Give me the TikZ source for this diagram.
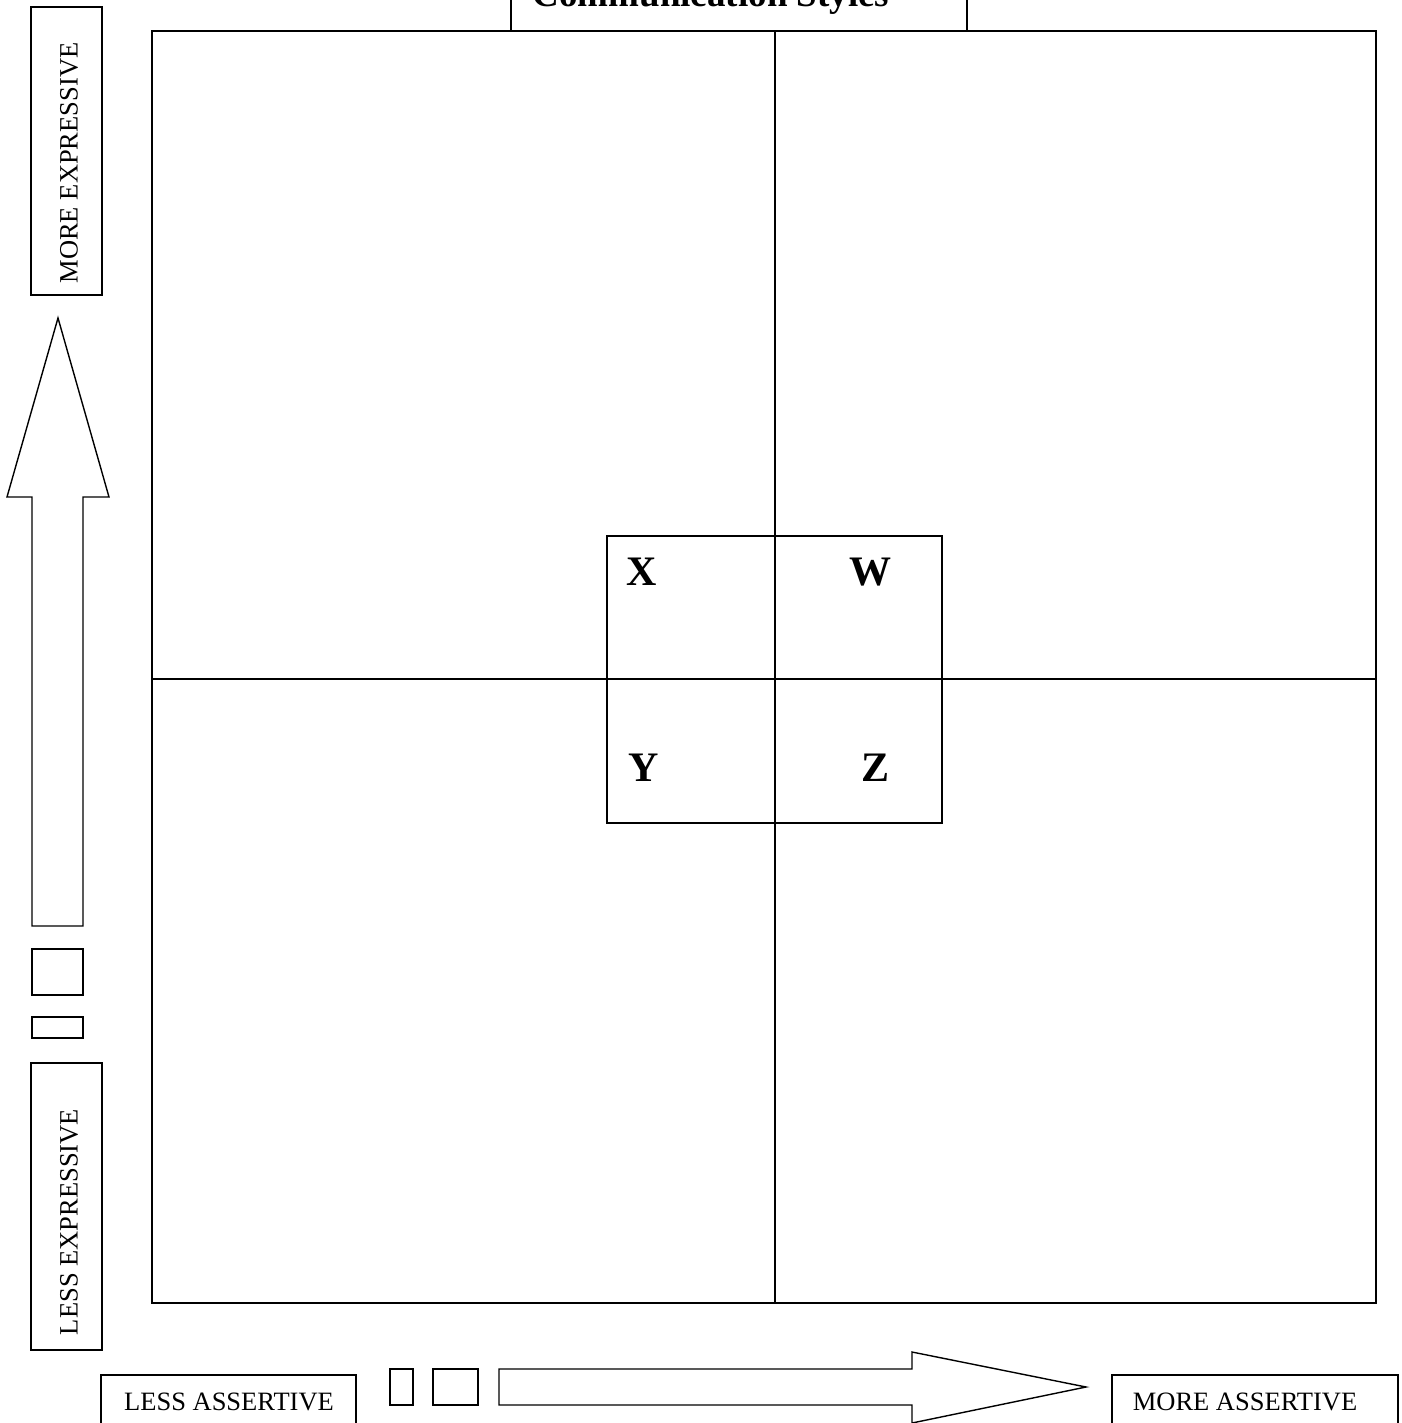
\documentclass[tikz,border=0pt]{standalone}
\usepackage{fontspec}
\setmainfont{Liberation Serif}
\begin{document}
\begin{tikzpicture}[x=1pt,y=-1pt,line width=1.4pt,
  lbl/.style={font=\fontsize{26.5}{30}\selectfont, inner sep=0pt},
  big/.style={font=\bfseries\fontsize{42}{46}\selectfont, inner sep=0pt},
  ttl/.style={font=\bfseries\fontsize{37}{40}\selectfont, inner sep=0pt}]
\useasboundingbox (0,0) rectangle (1401,1423);
% main grid
\draw (152,31) rectangle (1376,1303);
\draw (775,31) -- (775,1303);
\draw (152,679) -- (1376,679);
% title
\draw[fill=white] (511,-20) rectangle (967,31);
\node[ttl, anchor=base] (title) at (711,7) {Communication Styles};
% centre box
\draw (607,536) rectangle (942,823);
\node[big] (X) at (642,572) {X};
\node[big] (W) at (870,572) {W};
\node[big] (Y) at (644,768) {Y};
\node[big] (Z) at (875,768) {Z};
% left column
\draw (31,7) rectangle (102,295);
\node[lbl, rotate=90] (moreexp) at (69,163) {MORE EXPRESSIVE};
\draw (58,318) -- (109,497) -- (83,497) -- (83,926) -- (32,926) -- (32,497) -- (7,497) -- cycle;
\draw (32,949) rectangle (83,995);
\draw (32,1017) rectangle (83,1038);
\draw (31,1063) rectangle (102,1350);
\node[lbl, rotate=90] (lessexp) at (69,1222) {LESS EXPRESSIVE};
% bottom row
\draw (101,1375) rectangle (356,1430);
\node[lbl] (lessass) at (229,1402) {LESS ASSERTIVE};
\draw (390,1369) rectangle (413,1405);
\draw (433,1369) rectangle (478,1405);
\draw (499,1369) -- (912,1369) -- (912,1352) -- (1086,1387) -- (912,1423) -- (912,1405) -- (499,1405) -- cycle;
\draw (1112,1375) rectangle (1398,1430);
\node[lbl] (moreass) at (1245,1402) {MORE ASSERTIVE};
\end{tikzpicture}
\end{document}
